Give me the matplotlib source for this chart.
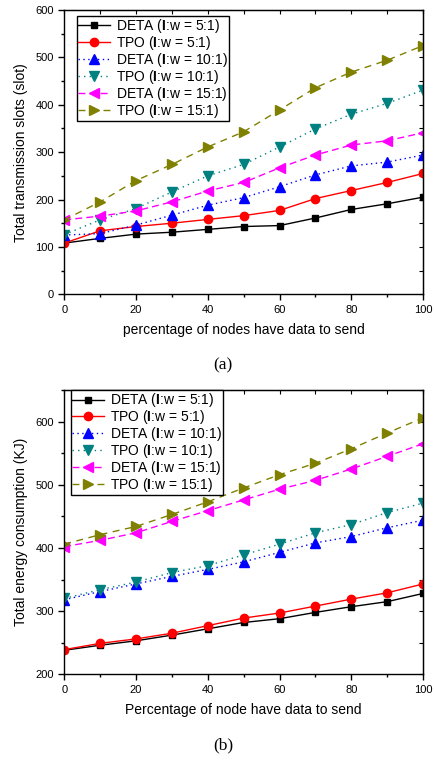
import matplotlib
matplotlib.use("Agg")
import matplotlib.pyplot as plt
from matplotlib.ticker import MultipleLocator

plt.rcParams['font.family'] = ['Liberation Sans', 'DejaVu Sans']
plt.rcParams['mathtext.fontset'] = 'custom'
plt.rcParams['mathtext.bf'] = 'Liberation Sans:bold'
plt.rcParams['mathtext.rm'] = 'Liberation Sans'

x = [0, 10, 20, 30, 40, 50, 60, 70, 80, 90, 100]

# (a) total transmission slots
slots_deta_5 = [108, 118, 127, 131, 137, 143, 145, 161, 179, 191, 205]
slots_tpo_5 = [108, 134, 143, 150, 158, 166, 177, 202, 219, 236, 255]
slots_deta_10 = [125, 128, 146, 167, 188, 204, 227, 252, 271, 279, 294]
slots_tpo_10 = [126, 157, 181, 216, 250, 274, 311, 349, 380, 403, 431]
slots_deta_15 = [157, 165, 176, 195, 218, 236, 267, 294, 315, 324, 341]
slots_tpo_15 = [157, 195, 240, 274, 311, 343, 389, 436, 469, 494, 525]

# (b) total energy consumption
energy_deta_5 = [238, 246, 253, 262, 272, 282, 288, 298, 307, 315, 328]
energy_tpo_5 = [239, 249, 256, 265, 277, 289, 297, 308, 319, 329, 343]
energy_deta_10 = [318, 331, 343, 355, 366, 378, 393, 408, 418, 432, 444]
energy_tpo_10 = [320, 334, 346, 361, 372, 389, 406, 424, 437, 456, 471]
energy_deta_15 = [402, 412, 424, 442, 459, 476, 493, 507, 525, 545, 565]
energy_tpo_15 = [406, 421, 434, 453, 473, 495, 516, 534, 557, 582, 606]

labels = [r'DETA ($\mathbf{I}$:w = 5:1)', r'TPO ($\mathbf{I}$:w = 5:1)',
          r'DETA ($\mathbf{I}$:w = 10:1)', r'TPO ($\mathbf{I}$:w = 10:1)',
          r'DETA ($\mathbf{I}$:w = 15:1)', r'TPO ($\mathbf{I}$:w = 15:1)']
colors = ['black', 'red', 'blue', '#008080', 'magenta', '#808000']
markers = ['s', 'o', '^', 'v', '<', '>']
msizes = [5, 6, 6.5, 6.5, 6.5, 6.5]
styles = ['-', '-', (0, (1, 2.5)), (0, (1, 3)), (0, (5, 3)), (0, (5, 4))]


def draw(ax, series, ylim, ymajor, xlabel, ylabel, leg_anchor):
    for ys, lab, c, m, ms, ls in zip(series, labels, colors, markers, msizes, styles):
        ax.plot(x, ys, color=c, marker=m, markersize=ms, linestyle=ls,
                linewidth=1, label=lab)
    ax.set_xlim(0, 100)
    ax.set_ylim(*ylim)
    ax.xaxis.set_major_locator(MultipleLocator(20))
    ax.xaxis.set_minor_locator(MultipleLocator(10))
    ax.yaxis.set_major_locator(MultipleLocator(ymajor))
    ax.yaxis.set_minor_locator(MultipleLocator(ymajor / 2))
    ax.tick_params(which='major', direction='out', length=4, labelsize=8, width=1)
    ax.tick_params(which='minor', direction='out', length=2.5, width=1)
    for sp in ax.spines.values():
        sp.set_linewidth(1)
    # inward ticks on top and right
    top = ax.secondary_xaxis('top')
    top.xaxis.set_major_locator(MultipleLocator(10))
    top.tick_params(direction='in', length=3, labeltop=False)
    right = ax.secondary_yaxis('right')
    right.yaxis.set_major_locator(MultipleLocator(ymajor / 2))
    right.tick_params(direction='in', length=3, labelright=False)
    ax.set_xlabel(xlabel, fontsize=10, labelpad=6)
    ax.set_ylabel(ylabel, fontsize=10, labelpad=5)
    leg = ax.legend(loc='upper left', bbox_to_anchor=leg_anchor, borderaxespad=0,
                    fontsize=10, handlelength=2.3, handletextpad=0.4,
                    labelspacing=-0.08, borderpad=0.1, fancybox=False,
                    framealpha=1, edgecolor='black')
    leg.get_frame().set_linewidth(1)


fig = plt.figure(figsize=(4.34, 7.62), dpi=100)
ax1 = fig.add_axes([0.148, 0.6138, 0.827, 0.3731])
ax2 = fig.add_axes([0.148, 0.1151, 0.827, 0.3731])

draw(ax1, [slots_deta_5, slots_tpo_5, slots_deta_10, slots_tpo_10, slots_deta_15, slots_tpo_15],
     (0, 600), 100, 'percentage of nodes have data to send',
     'Total transmission slots (slot)', (0.035, 0.979))
draw(ax2, [energy_deta_5, energy_tpo_5, energy_deta_10, energy_tpo_10, energy_deta_15, energy_tpo_15],
     (200, 650), 100, 'Percentage of node have data to send',
     'Total energy consumption (KJ)', (0.018, 1.0))

fig.text(223 / 434, 1 - 365 / 762, '(a)', ha='center', va='center',
         fontsize=12.5, family='Liberation Serif')
fig.text(223 / 434, 1 - 745 / 762, '(b)', ha='center', va='center',
         fontsize=12.5, family='Liberation Serif')

fig.savefig('out.png', dpi=100)
